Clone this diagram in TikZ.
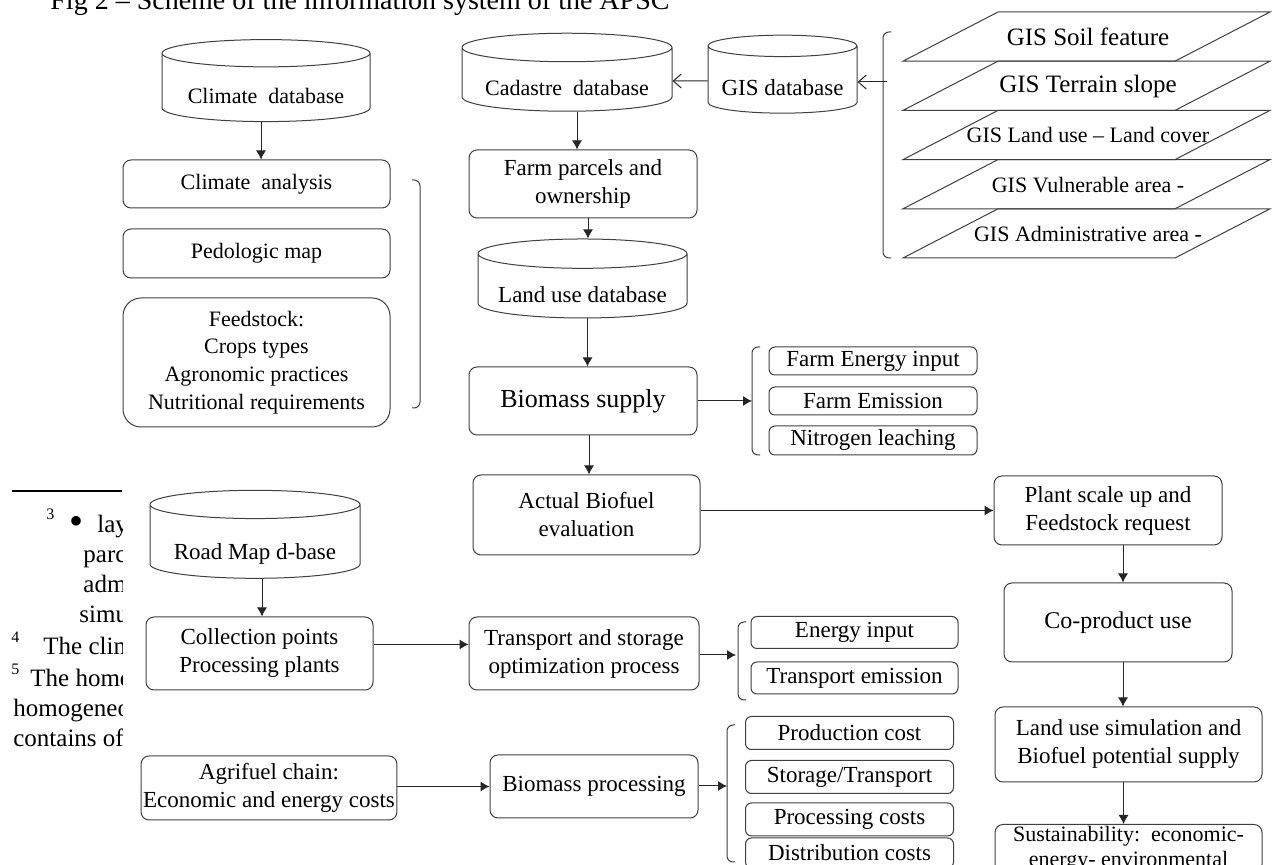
\documentclass[tikz,border=0pt]{standalone}
\usepackage{fontspec}
\setmainfont{Liberation Serif}
\usetikzlibrary{shapes.geometric,arrows.meta}

\begin{document}
\begin{tikzpicture}[x=0.5pt,y=-0.5pt,
	box/.style={draw=black!75,line width=0.5pt,rounded corners=4pt,align=center,inner sep=1pt,font=\fontsize{11.5}{14}\selectfont},
	dbase/.style={draw=black!75,line width=0.5pt,cylinder,shape border rotate=90,aspect=0.17,align=center,inner sep=1pt,text height=15pt,text depth=0pt,font=\fontsize{11}{13}\selectfont},
	small/.style={box,rounded corners=3pt,minimum width=104pt,font=\fontsize{11.5}{13}\selectfont},
	arr/.style={-{Latex[length=4.5pt,width=5pt]},line width=0.5pt,black!85},
	barb/.style={-{Straight Barb[length=4pt,width=7pt]},line width=0.5pt,black!85},
	grp/.style={draw=black!75,line width=0.5pt,rounded corners=3pt},
	fn/.style={anchor=base west,inner sep=0,font=\fontsize{12.5}{14}\selectfont}]
	\fill[white] (0,0) rectangle (1276,865);
	\useasboundingbox (0,0) rectangle (1276,865);
	\clip (0,0) rectangle (1276,865);

	% page text around the figure
	\node[anchor=base west,inner sep=0,font=\fontsize{14}{16}\selectfont] (caption) at (50,10) {Fig 2 – Scheme of the information system of the APSC};
	\begin{scope}
		\clip (0,470) rectangle (122,760);
		\draw[line width=1pt] (12,491) -- (122,491);
		\node[fn,font=\fontsize{8}{9}\selectfont] (n3) at (46,520) {3};
		\node[fn,font=\fontsize{20}{20}\selectfont] (b3) at (69,535) {•};
		\node[fn] (l1) at (97,533) {layers};
		\node[fn] (l2) at (83,563) {parcels};
		\node[fn] (l3) at (83,593) {administrative};
		\node[fn] (l4) at (79,623) {simulation};
		\node[fn,font=\fontsize{8}{9}\selectfont] (n4) at (11,643) {4};
		\node[fn] (l5) at (43,655) {The climate};
		\node[fn,font=\fontsize{8}{9}\selectfont] (n5) at (11,675) {5};
		\node[fn] (l6) at (30,687) {The homogeneous};
		\node[fn] (l7) at (13,717) {homogeneous};
		\node[fn] (l8) at (13,747) {contains of};
	\end{scope}

	% left column
	\node[dbase,minimum width=104pt,minimum height=41pt] (clidb) at (266,89) {Climate\ \ database};
	\node[box,minimum width=133.5pt,minimum height=24pt,font=\fontsize{11}{13}\selectfont] (clian) at (256.5,184) {Climate\ \ analysis};
	\node[box,minimum width=133.5pt,minimum height=24.5pt,font=\fontsize{11}{13}\selectfont] (pedo) at (256.5,253.5) {Pedologic map};
	\node[box,rounded corners=9pt,minimum width=133.5pt,minimum height=64.5pt,font=\fontsize{11}{13.9}\selectfont] (feed) at (256.5,362.5) {Feedstock:\\Crops types\\Agronomic practices\\Nutritional requirements};
	\draw[grp] (412,180) -- (420,180) -- (420,408) -- (412,408);

	% middle column
	\node[dbase,minimum width=105pt,minimum height=39pt] (cadb) at (567,81) {Cadastre\ \ database};
	\node[dbase,minimum width=74.5pt,minimum height=39pt,font=\fontsize{11.5}{13}\selectfont] (gisdb) at (782.5,81) {GIS database};
	\node[box,minimum width=114pt,minimum height=34pt] (farm) at (583,184) {Farm parcels and\\ownership};
	\node[dbase,minimum width=104.5pt,minimum height=39.5pt,font=\fontsize{11.5}{13}\selectfont] (ludb) at (582.5,287.5) {Land use database};
	\node[box,minimum width=114pt,minimum height=34pt,font=\fontsize{13}{15}\selectfont] (biosup) at (583,401) {Biomass supply};
	\node[box,minimum width=113.5pt,minimum height=40pt] (actual) at (586.5,515) {Actual Biofuel\\evaluation};

	% GIS layers
	\foreach \t/\s [count=\i from 0] in {GIS Soil feature/12.5,GIS Terrain slope/12.5,GIS Land use – Land cover/11,GIS Vulnerable area -/11,GIS Administrative area -/11}{
		\pgfmathsetmacro\ya{12+49.2*\i}
		\draw[line width=0.5pt,black!75] (903,{\ya+49.2}) -- (998,\ya) -- (1270,\ya) -- (1175,{\ya+49.2}) -- cycle;
		\node[inner sep=0,font=\fontsize{\s}{\s}\selectfont] (gis\i) at (1088,{\ya+25}) {\t};
	}
	\draw[grp] (891,32) -- (883,32) -- (883,258) -- (891,258);
	\coordinate (gisgrp) at (887,82);

	% farm outputs
	\draw[grp] (760,347) -- (752,347) -- (752,455) -- (760,455);
	\coordinate (farmgrp) at (752,401);
	\node[small,minimum height=14pt] (fei) at (873,361) {Farm Energy input};
	\node[small,minimum height=14pt] (fem) at (873,401) {Farm Emission};
	\node[small,minimum height=14.5pt] (nit) at (873,440.5) {Nitrogen leaching};

	% right column
	\node[box,minimum width=114pt,minimum height=34.5pt] (plant) at (1108,510.5) {Plant scale up and\\Feedstock request};
	\node[box,minimum width=114pt,minimum height=39.5pt,font=\fontsize{12}{14}\selectfont] (coprod) at (1118,622.5) {Co-product use};
	\node[box,minimum width=133.5pt,minimum height=37.5pt] (landsim) at (1128.5,744.5) {Land use simulation and\\Biofuel potential supply};
	\node[box,anchor=north,minimum width=133.5pt,minimum height=24pt,inner ysep=0pt,font=\fontsize{11}{12.5}\selectfont] (sust) at (1128.5,824) {Sustainability:\ \ economic-\\energy- environmental};

	% lower rows
	\node[dbase,minimum width=105pt,minimum height=44pt,text height=17pt,font=\fontsize{11.5}{13}\selectfont] (road) at (255,543) {Road Map d-base};
	\node[box,minimum width=113.5pt,minimum height=36.5pt] (coll) at (259.5,653.5) {Collection points\\Processing plants};
	\node[box,minimum width=115pt,minimum height=36.5pt] (trans) at (584,653.5) {Transport and storage\\optimization process};
	\draw[grp] (746,622) -- (738,622) -- (738,700) -- (746,700);
	\coordinate (transgrp) at (736,655);
	\node[small,minimum height=16pt,minimum width=103.5pt] (ein) at (854.5,632.5) {Energy input};
	\node[small,minimum height=16pt,minimum width=103.5pt] (tem) at (854.5,678) {Transport emission};
	\node[box,minimum width=117pt,minimum height=32pt] (agri) at (269,788) {Agrifuel chain:\\Economic and energy costs};
	\node[box,minimum width=104pt,minimum height=31.5pt] (bproc) at (594,786.5) {Biomass processing};
	\draw[grp] (735,725) -- (727,725) -- (727,862) -- (735,862);
	\coordinate (costgrp) at (727,786);
	\node[small,minimum height=16.5pt] (prod) at (849.5,733) {Production cost};
	\node[small,minimum height=16.5pt] (stor) at (849.5,777) {Storage/Transport};
	\node[small,minimum height=16.5pt] (proc) at (849.5,819.5) {Processing costs};
	\node[small,minimum height=15pt] (dist) at (849.5,853) {Distribution costs};

	% connectors
	\draw[arr] ([xshift=-2.5pt]clidb.south) -- ([xshift=-2.5pt]clidb.south |- clian.north);
	\draw[barb] (gisdb.west) -- (cadb.east);
	\draw[barb] (gisgrp) -- (gisgrp -| gisdb.east);
	\draw[arr] ([xshift=5pt]cadb.south) -- ([xshift=5pt]cadb.south |- farm.north);
	\draw[arr] ([xshift=2.5pt]farm.south) -- ([xshift=2.5pt]farm.south |- ludb.north);
	\draw[arr] ([xshift=2.5pt]ludb.south) -- ([xshift=2.5pt]ludb.south |- biosup.north);
	\draw[arr] (biosup.east) -- (farmgrp);
	\draw[arr] ([xshift=3pt]biosup.south) -- ([xshift=3pt]biosup.south |- actual.north);
	\draw[arr] (actual.east |- plant.west) -- (plant.west);
	\draw[arr] ([xshift=7.5pt]plant.south) -- ([xshift=7.5pt]plant.south |- coprod.north);
	\draw[arr] ([xshift=2.5pt]coprod.south) -- ([xshift=2.5pt]coprod.south |- landsim.north);
	\draw[arr] ([xshift=-2.5pt]landsim.south) -- ([xshift=-2.5pt]landsim.south |- sust.north);
	\draw[arr] ([xshift=3.5pt]road.south) -- ([xshift=3.5pt]road.south |- coll.north);
	\draw[arr] ([yshift=4.5pt]coll.east) -- ([yshift=4.5pt]coll.east -| trans.west);
	\draw[arr] (trans.east |- transgrp) -- (transgrp);
	\draw[arr] (agri.east |- bproc.west) -- (bproc.west);
	\draw[arr] (bproc.east |- costgrp) -- (costgrp);
\end{tikzpicture}
\end{document}
